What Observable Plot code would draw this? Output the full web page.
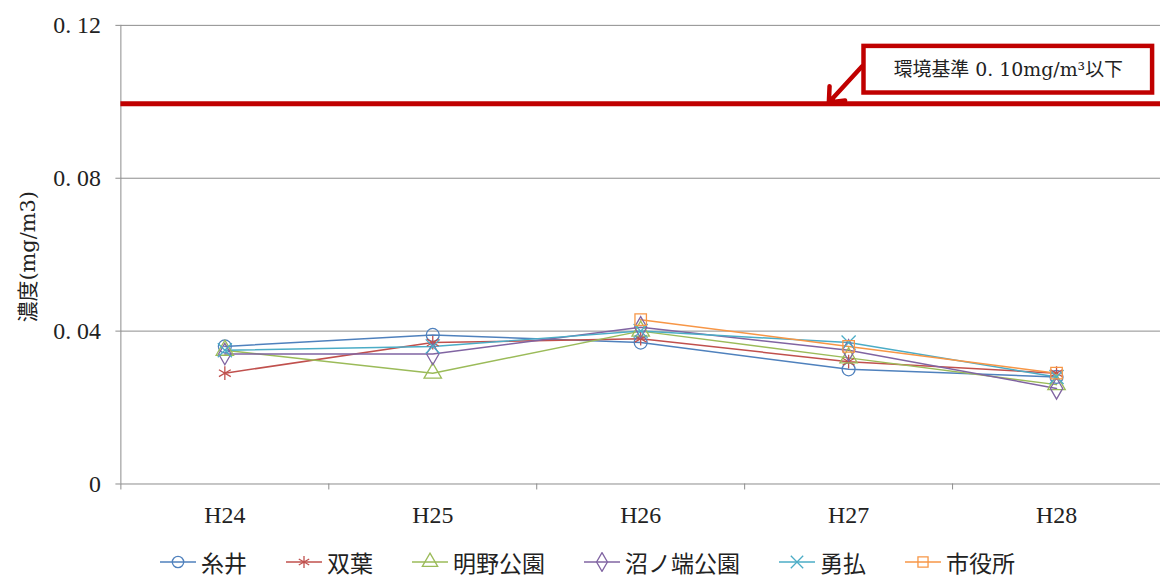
<!DOCTYPE html>
<html>
<head>
<meta charset="utf-8">
<script src="https://cdn.jsdelivr.net/npm/d3@7"></script>
<script src="https://cdn.jsdelivr.net/npm/@observablehq/plot@0.6"></script>
<style>
  body { margin: 0; background: #fff; overflow: hidden; width: 1160px; height: 579px; }
  #wrap { position: relative; width: 1160px; height: 579px; overflow: hidden; }
  #legend { position: absolute; left: 0; top: 548px; width: 1160px; height: 28px; display: flex; justify-content: center; align-items: center; font-family: "Noto Sans CJK JP", sans-serif; font-size: 23px; line-height: 28px; color: #222; padding-left: 14px; box-sizing: border-box; }
  .item { display: flex; align-items: center; margin: 0 19px; height: 28px; }
  .item svg { margin-right: 4px; }
</style>
</head>
<body>
<div id="wrap"><div id="chart"></div><div id="legend"></div></div>
<script>
const years = ["H24", "H25", "H26", "H27", "H28"];
const sites = ["糸井", "双葉", "明野公園", "沼ノ端公園", "勇払", "市役所"];
const itoi       = [0.036, 0.039, 0.037, 0.030, 0.028];
const futaba     = [0.029, 0.037, 0.038, 0.032, 0.029];
const akeno      = [0.035, 0.029, 0.040, 0.033, 0.026];
const numanohata = [0.034, 0.034, 0.041, 0.035, 0.025];
const yufutsu    = [0.035, 0.036, 0.040, 0.037, 0.028];
const shiyakusho = [null, null, 0.043, 0.036, 0.029];
const standard = 0.10;
const standardLabel = "環境基準 0. 10mg/m³以下";
const yTicks = [0, 0.04, 0.08, 0.12];
const yTickLabels = ["0", "0. 04", "0. 08", "0. 12"];
const yLabel = "濃度(mg/m3)";

const colors = ["#4F81BD", "#C0504D", "#9BBB59", "#8064A2", "#4BACC6", "#F79646"];
const symbols = ["circle", "asterisk", "triangle", "diamond", "times", "square"];
const seriesValues = [itoi, futaba, akeno, numanohata, yufutsu, shiyakusho];

const rows = [];
sites.forEach((s, si) => {
  seriesValues[si].forEach((v, yi) => {
    if (v != null) rows.push({site: s, xi: yi + 0.5, year: years[yi], value: v});
  });
});

// annotation placement (in chart coordinates)
const box = {x1: 3.574, x2: 4.962, y1: 0.1023, y2: 0.1145};
const arrow = {x1: 3.565, y1: 0.1093, x2: 3.405, y2: 0.0998};

const serif = "'Liberation Serif', 'DejaVu Serif', serif";
const mixed = "'DejaVu Serif', 'Noto Sans CJK JP', serif";
const red = "#C00000";
const grid = "#8C8C8C";

const chart = Plot.plot({
  width: 1166,
  height: 540,
  marginLeft: 121,
  marginRight: 0,
  marginTop: 25,
  marginBottom: 54,
  style: {fontFamily: serif, background: "transparent", color: "#222"},
  x: {domain: [0, 5]},
  y: {domain: [0, 0.12]},
  color: {domain: sites, range: colors},
  symbol: {domain: sites, range: symbols},
  marks: [
    Plot.gridY(yTicks.filter(d => d > 0), {stroke: grid, strokeOpacity: 1, strokeWidth: 1}),
    Plot.ruleY([0], {stroke: grid, strokeWidth: 1}),
    Plot.ruleX([0], {stroke: grid, strokeWidth: 1}),
    Plot.axisY({ticks: yTicks, tickFormat: d => yTickLabels[yTicks.indexOf(d)], tickSize: 5, stroke: grid, label: null, fontSize: 24, tickPadding: 15, fill: "#222"}),
    Plot.axisX({ticks: d3.range(0, years.length + 1), tickFormat: () => "", tickSize: 6, stroke: grid, label: null}),
    Plot.axisX({ticks: years.map((d, i) => i + 0.5), tickFormat: d => years[Math.floor(d)], tickSize: 0, tickPadding: 22, label: null, fontSize: 24, fill: "#222"}),
    Plot.text([yLabel], {frameAnchor: "left", dx: -93, dy: 2, rotate: -90, textAnchor: "middle", text: d => d, fontSize: 21, fontFamily: mixed, fill: "#222"}),
    Plot.ruleY([standard], {stroke: red, strokeWidth: 5, dy: 2}),
    Plot.line(rows, {x: "xi", y: "value", z: "site", stroke: "site", strokeWidth: 1.5}),
    Plot.dot(rows, {x: "xi", y: "value", stroke: "site", symbol: "site", r: 6.5, strokeWidth: 1.3}),
    Plot.arrow([arrow], {x1: "x1", y1: "y1", x2: "x2", y2: "y2", stroke: red, strokeWidth: 4.5, headLength: 18, headAngle: 80, bend: 0}),
    Plot.rect([box], {x1: "x1", x2: "x2", y1: "y1", y2: "y2", fill: "white", stroke: red, strokeWidth: 4.5}),
    Plot.text([standardLabel], {x: (box.x1 + box.x2) / 2, y: (box.y1 + box.y2) / 2, text: d => d, fontSize: 19, fontFamily: mixed, fill: "#222"})
  ]
});
document.getElementById("chart").appendChild(chart);

// legend
const legend = document.getElementById("legend");
const symMap = {circle: d3.symbolCircle, asterisk: d3.symbolAsterisk, triangle: d3.symbolTriangle, diamond: d3.symbolDiamond, times: d3.symbolTimes, square: d3.symbolSquare};
sites.forEach((s, i) => {
  const item = document.createElement("div");
  item.className = "item";
  const svg = d3.create("svg").attr("width", 38).attr("height", 20);
  svg.append("line").attr("x1", 1).attr("x2", 37).attr("y1", 10).attr("y2", 10).attr("stroke", colors[i]).attr("stroke-width", 1.5);
  svg.append("path").attr("transform", "translate(19,10)").attr("d", d3.symbol(symMap[symbols[i]], 36 * Math.PI * 0.9)()).attr("fill", "none").attr("stroke", colors[i]).attr("stroke-width", 1.3);
  item.appendChild(svg.node());
  const t = document.createElement("span");
  t.textContent = s;
  item.appendChild(t);
  legend.appendChild(item);
});
</script>
</body>
</html>
